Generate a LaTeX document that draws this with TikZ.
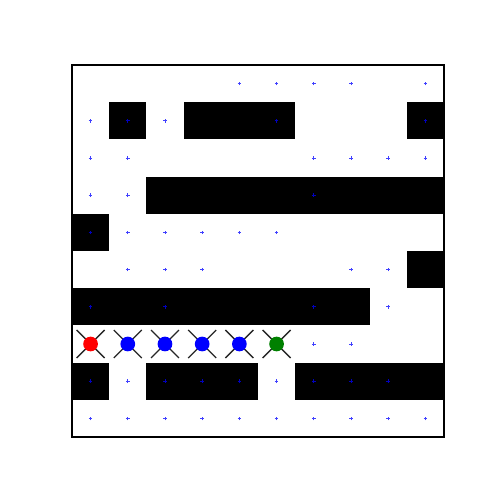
\documentclass[tikz,border=0pt]{standalone}
\usepackage{tikz}
\usetikzlibrary{positioning}
\definecolor{mplgreen}{HTML}{008000}
\definecolor{mplblue}{HTML}{0000FF}
\tikzset{
  wall/.style={fill=black, draw=none},
  pt/.style={draw=mplblue, line width=.6pt, opacity=.75},
  plus/.pic={\draw[pt] (-.05,0) -- (.05,0) (0,-.05) -- (0,.05);},
  agent/.style={circle, minimum size=3.95mm, inner sep=0pt, draw=none},
  xmark/.style={line width=1pt, draw=black!85},
  frame/.style={line width=.8pt, draw=black},
}
\begin{document}
\begin{tikzpicture}
  \useasboundingbox (-1.935,-1.156) rectangle (10.968,11.747);
  % walls: column/row/width, rows counted from the top
  \foreach \c/\r/\w in {1/1/1, 3/1/3, 9/1/1, 2/3/8, 0/4/1, 9/5/1, 0/6/8, 0/8/1, 2/8/3, 6/8/4}{ \fill[wall] (\c,9-\r) rectangle ++(\w,1); }
  % waypoints
  \foreach \c in {4,5,6,7,9}{ \pic at (\c+.5,9.5) {plus}; }
  \foreach \c in {0,1,2,5,9}{ \pic at (\c+.5,8.5) {plus}; }
  \foreach \c in {0,1,6,7,8,9}{ \pic at (\c+.5,7.5) {plus}; }
  \foreach \c in {0,1,6}{ \pic at (\c+.5,6.5) {plus}; }
  \foreach \c in {0,1,2,3,4,5}{ \pic at (\c+.5,5.5) {plus}; }
  \foreach \c in {1,2,3,7,8}{ \pic at (\c+.5,4.5) {plus}; }
  \foreach \c in {0,2,6,8}{ \pic at (\c+.5,3.5) {plus}; }
  \foreach \c in {6,7}{ \pic at (\c+.5,2.5) {plus}; }
  \foreach \c in {0,1,...,8}{ \pic at (\c+.5,1.5) {plus}; }
  \foreach \c in {0,1,...,9}{ \pic at (\c+.5,0.5) {plus}; }
  \draw[frame] (0,0) rectangle (10,10);
  % agents
  \foreach \c/\col in {0/red, 1/mplblue, 2/mplblue, 3/mplblue, 4/mplblue, 5/mplgreen}{
    \draw[xmark] (\c+.124,2.124) -- (\c+.876,2.876) (\c+.124,2.876) -- (\c+.876,2.124);
    \node[agent, fill=\col] (a\c) at (\c+.5,2.5) {};
  }
\end{tikzpicture}
\end{document}
